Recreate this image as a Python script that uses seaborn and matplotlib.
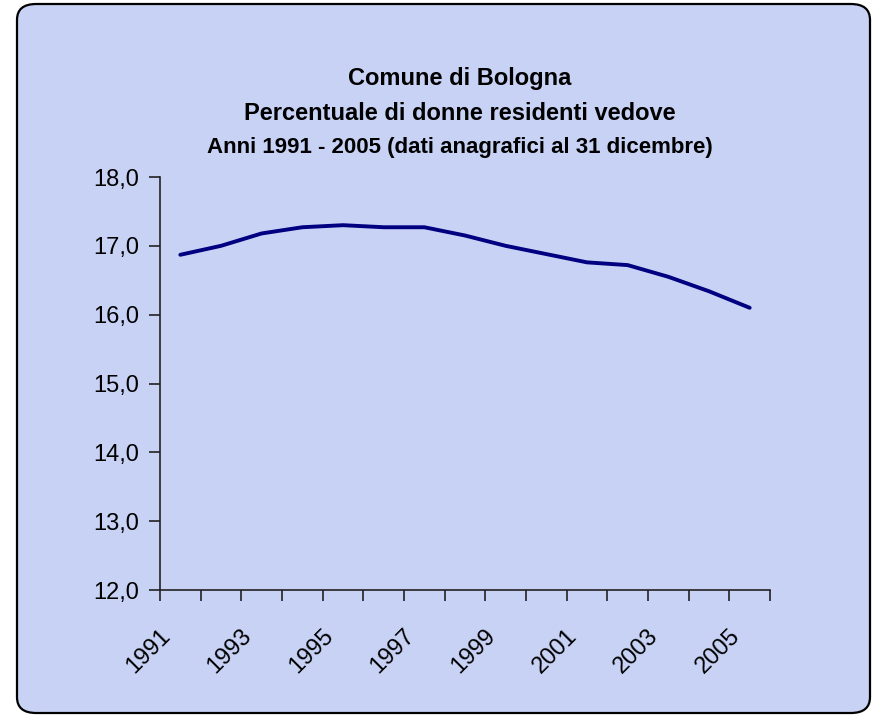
import numpy as np
import pandas as pd
import matplotlib
matplotlib.use("Agg")
import matplotlib.pyplot as plt
import matplotlib.transforms as mtransforms
from matplotlib.patches import FancyBboxPatch
import seaborn as sns

# Dati: percentuale di donne residenti vedove, Comune di Bologna
YEARS = [str(y) for y in range(1991, 2006)]
PCT_VEDOVE = [16.87, 17.00, 17.18, 17.27, 17.30, 17.27, 17.27, 17.15,
              17.00, 16.88, 16.76, 16.72, 16.55, 16.34, 16.10]
Y_TICKS = [12, 13, 14, 15, 16, 17, 18]

TITLE_1 = "Comune di Bologna"
TITLE_2 = "Percentuale di donne residenti vedove"
TITLE_3 = "Anni 1991 - 2005 (dati anagrafici al 31 dicembre)"

BG = "#c8d2f5"
LINE = "#000080"

sns.set_theme(style="ticks")
plt.rcParams["font.family"] = ["Liberation Sans", "DejaVu Sans"]
plt.rcParams["text.color"] = "black"

W, H = 874, 719
fig = plt.figure(figsize=(W / 100, H / 100), dpi=100)
fig.patch.set_facecolor("white")

# cornice arrotondata
frame = FancyBboxPatch((17 / W, 6 / H), (870 - 17) / W, (715 - 6) / H,
                       boxstyle="round,pad=0,rounding_size=0.022",
                       transform=fig.transFigure, facecolor=BG,
                       edgecolor="black", linewidth=1.6, zorder=-5)
fig.patches.append(frame)

ax = fig.add_axes([160 / W, 1 - 590 / H, 610 / W, 413 / H])
ax.set_facecolor("none")
ax.set_zorder(2)

df = pd.DataFrame({"pos": np.arange(len(YEARS)), "pct": PCT_VEDOVE})
sns.lineplot(data=df, x="pos", y="pct", ax=ax, color=LINE, linewidth=2.8)

ax.set_xlim(-0.5, len(YEARS) - 0.5)
ax.set_ylim(min(Y_TICKS), max(Y_TICKS))
ax.set_yticks(Y_TICKS)
ax.set_yticklabels([f"{v:.1f}".replace(".", ",") for v in Y_TICKS])

# tacche ai confini delle categorie, etichette ogni due anni
ax.set_xticks(np.arange(-0.5, len(YEARS), 1.0))
ax.set_xticklabels([])
ax.set_xticks(np.arange(0, len(YEARS), 2), minor=True)
ax.set_xticklabels(YEARS[::2], minor=True)
ax.set_xlabel("")
ax.set_ylabel("")

ax.tick_params(axis="both", which="major", direction="out", length=8,
               width=1.2, color="#222222")
ax.tick_params(axis="y", labelsize=17, pad=7, labelcolor="black")
ax.tick_params(axis="x", which="minor", length=0, pad=25, labelsize=17,
               labelcolor="black")

offset = mtransforms.ScaledTranslation(-0.21, 0, fig.dpi_scale_trans)
for lab in ax.get_xticklabels(minor=True):
    lab.set_rotation(45)
    lab.set_rotation_mode("anchor")
    lab.set_ha("right")
    lab.set_va("top")
    lab.set_transform(lab.get_transform() + offset)

sns.despine(ax=ax)
for s in ["left", "bottom"]:
    ax.spines[s].set_color("#222222")
    ax.spines[s].set_linewidth(1.2)

fig.text(460 / W, 1 - 78 / H, TITLE_1, ha="center", va="center",
         fontsize=17, fontweight="bold", color="black")
fig.text(460 / W, 1 - 113 / H, TITLE_2, ha="center", va="center",
         fontsize=17, fontweight="bold", color="black")
fig.text(460 / W, 1 - 147 / H, TITLE_3, ha="center", va="center",
         fontsize=16, fontweight="bold", color="black")

fig.savefig("out.png", dpi=100)
